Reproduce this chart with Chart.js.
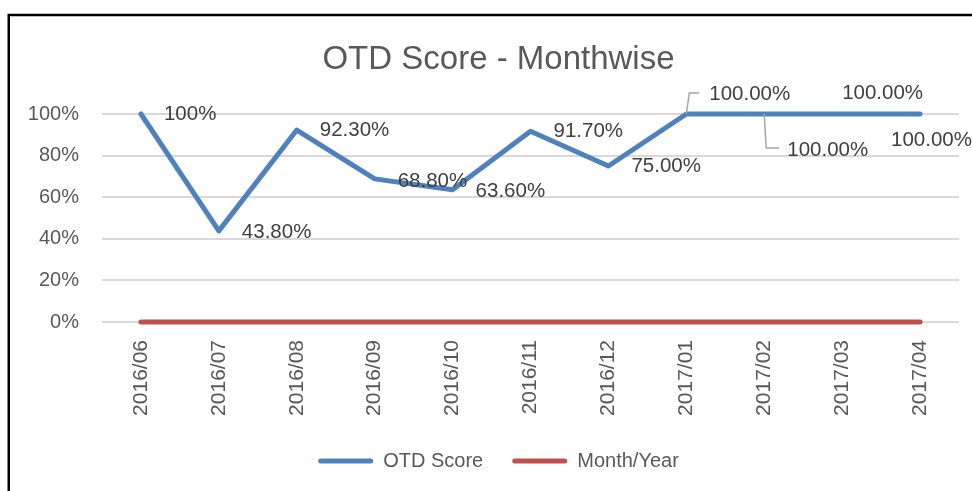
<!DOCTYPE html>
<html>
<head>
<meta charset="utf-8">
<script src="https://cdn.jsdelivr.net/npm/chart.js@4/dist/chart.umd.min.js"></script>
<style>
  html, body { margin: 0; padding: 0; background: #ffffff; }
  #wrap { position: relative; width: 972px; height: 491px; }
</style>
</head>
<body>
<div id="wrap"><canvas id="c" width="972" height="491"></canvas></div>
<script>
// ---- Data ----
const categories = ['2016/06','2016/07','2016/08','2016/09','2016/10','2016/11','2016/12','2017/01','2017/02','2017/03','2017/04'];
const otdScore = [1.00, 0.438, 0.923, 0.688, 0.636, 0.917, 0.75, 1.00, 1.00, 1.00, 1.00];
const monthYear = [0, 0, 0, 0, 0, 0, 0, 0, 0, 0, 0];
const otdLabels = ['100%','43.80%','92.30%','68.80%','63.60%','91.70%','75.00%','100.00%','100.00%','100.00%','100.00%'];
const yTickLabels = ['0%','20%','40%','60%','80%','100%'];
const seriesNames = ['OTD Score', 'Month/Year'];
const chartTitle = 'OTD Score - Monthwise';

// ---- Label placement (style): text left offset / centre offset relative to point, optional leader path ----
const labelPlacement = [
  { dx: 23, dy: 0 },
  { dx: 23, dy: 1 },
  { dx: 23, dy: 0 },
  { dx: 23, dy: 2 },
  { dx: 23, dy: 2 },
  { dx: 23, dy: 0 },
  { dx: 23, dy: 0 },
  { dx: 23, dy: -20, leader: [[0,0],[3,-21],[13,-21]] },
  { dx: 23, dy: 36, leader: [[0,0],[2,34],[15,34]] },
  { dx: 0, dy: -21 },
  { dx: -29, dy: 26 }
];

const FONT = '"Liberation Sans", Arial, sans-serif';
const BLUE = '#4f81bd';
const RED = '#c0504d';

const framePlugin = {
  id: 'frame',
  beforeDraw(chart) {
    const ctx = chart.ctx;
    ctx.save();
    ctx.fillStyle = '#ffffff';
    ctx.fillRect(0, 0, chart.width, chart.height);
    ctx.strokeStyle = '#000000';
    ctx.lineWidth = 2.5;
    ctx.beginPath();
    ctx.moveTo(8.75, chart.height);
    ctx.lineTo(8.75, 15);
    ctx.lineTo(chart.width, 15);
    ctx.stroke();
    ctx.restore();
  }
};

const labelPlugin = {
  id: 'pointLabels',
  afterDatasetsDraw(chart) {
    const ctx = chart.ctx;
    const meta = chart.getDatasetMeta(0);
    ctx.save();
    ctx.font = '20.5px ' + FONT;
    ctx.textBaseline = 'middle';
    ctx.textAlign = 'left';
    meta.data.forEach((pt, i) => {
      const p = labelPlacement[i];
      if (p.leader) {
        ctx.strokeStyle = '#a6a6a6';
        ctx.lineWidth = 1.5;
        ctx.beginPath();
        p.leader.forEach(([lx, ly], k) => {
          if (k === 0) ctx.moveTo(pt.x + lx, pt.y + ly);
          else ctx.lineTo(pt.x + lx, pt.y + ly);
        });
        ctx.stroke();
      }
      ctx.fillStyle = '#404040';
      ctx.fillText(otdLabels[i], pt.x + p.dx, pt.y + p.dy);
    });
    ctx.restore();
  }
};

new Chart(document.getElementById('c'), {
  type: 'line',
  data: {
    labels: categories,
    datasets: [
      {
        label: seriesNames[0],
        data: otdScore,
        borderColor: BLUE,
        backgroundColor: BLUE,
        borderWidth: 5,
        pointRadius: 0,
        pointHoverRadius: 0,
        tension: 0,
        borderCapStyle: 'round',
        borderJoinStyle: 'round',
        clip: false
      },
      {
        label: seriesNames[1],
        data: monthYear,
        borderColor: RED,
        backgroundColor: RED,
        borderWidth: 5,
        pointRadius: 0,
        pointHoverRadius: 0,
        tension: 0,
        borderCapStyle: 'round',
        borderJoinStyle: 'round',
        clip: false
      }
    ]
  },
  options: {
    responsive: false,
    animation: false,
    devicePixelRatio: 1,
    layout: { padding: { left: 38, right: 13, top: 0, bottom: 10 } },
    plugins: {
      tooltip: { enabled: false },
      title: {
        display: true,
        text: chartTitle,
        color: '#595959',
        font: { family: FONT, size: 33, weight: 'normal', lineHeight: 1.2 },
        padding: { top: 40.2, bottom: 34.2 }
      },
      legend: {
        position: 'bottom',
        labels: {
          color: '#595959',
          font: { family: FONT, size: 20 },
          boxWidth: 55,
          boxHeight: 5,
          padding: 29,
          generateLabels(chart) {
            const items = Chart.defaults.plugins.legend.labels.generateLabels(chart);
            items.forEach(it => {
              it.fillStyle = it.strokeStyle;
              it.lineWidth = 0;
              it.borderRadius = 2.5;
            });
            return items;
          }
        }
      }
    },
    scales: {
      x: {
        offset: true,
        grid: { display: false, drawTicks: false },
        border: { display: false },
        ticks: {
          color: '#595959',
          font: { family: FONT, size: 21 },
          minRotation: 90,
          maxRotation: 90,
          padding: 18,
          autoSkip: false
        },
        afterFit(scale) { scale.height = 100; }
      },
      y: {
        min: 0,
        max: 1,
        grid: { color: '#d9d9d9', lineWidth: 2, drawTicks: false },
        border: { display: false },
        ticks: {
          stepSize: 0.2,
          color: '#595959',
          font: { family: FONT, size: 20 },
          padding: 23,
          callback(value, index) { return yTickLabels[index]; }
        },
        afterFit(scale) {
          scale.width = 64;
          // let tick labels extend into the left layout padding
          scale._computeLabelArea = () => undefined;
        }
      }
    }
  },
  plugins: [framePlugin, labelPlugin]
});
</script>
</body>
</html>
